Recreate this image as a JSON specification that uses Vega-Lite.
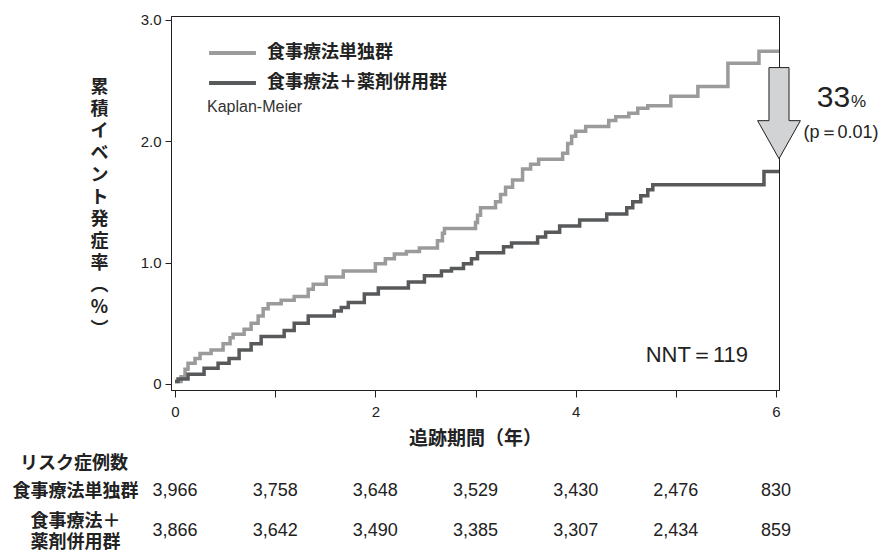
{
  "$schema": "https://vega.github.io/schema/vega-lite/v6.json",
  "padding": {"left": 12, "top": 12, "right": 0, "bottom": 0},
  "background": "white",
  "config": {"font": "Liberation Sans", "view": {"stroke": null}},
  "spacing": 6,
  "datasets": {
    "km": [
      {"group": "食事療法単独群", "year": 0, "value": 0.02},
      {"group": "食事療法単独群", "year": 0.06, "value": 0.06},
      {"group": "食事療法単独群", "year": 0.1, "value": 0.12},
      {"group": "食事療法単独群", "year": 0.13, "value": 0.17},
      {"group": "食事療法単独群", "year": 0.2, "value": 0.21},
      {"group": "食事療法単独群", "year": 0.25, "value": 0.25},
      {"group": "食事療法単独群", "year": 0.36, "value": 0.28},
      {"group": "食事療法単独群", "year": 0.48, "value": 0.33},
      {"group": "食事療法単独群", "year": 0.55, "value": 0.38},
      {"group": "食事療法単独群", "year": 0.58, "value": 0.41},
      {"group": "食事療法単独群", "year": 0.69, "value": 0.45},
      {"group": "食事療法単独群", "year": 0.76, "value": 0.5},
      {"group": "食事療法単独群", "year": 0.83, "value": 0.56},
      {"group": "食事療法単独群", "year": 0.88, "value": 0.62},
      {"group": "食事療法単独群", "year": 0.93, "value": 0.66},
      {"group": "食事療法単独群", "year": 1.06, "value": 0.69},
      {"group": "食事療法単独群", "year": 1.19, "value": 0.72},
      {"group": "食事療法単独群", "year": 1.33, "value": 0.78},
      {"group": "食事療法単独群", "year": 1.38, "value": 0.82},
      {"group": "食事療法単独群", "year": 1.51, "value": 0.88},
      {"group": "食事療法単独群", "year": 1.68, "value": 0.93},
      {"group": "食事療法単独群", "year": 2.0, "value": 0.99},
      {"group": "食事療法単独群", "year": 2.1, "value": 1.03},
      {"group": "食事療法単独群", "year": 2.19, "value": 1.07},
      {"group": "食事療法単独群", "year": 2.31, "value": 1.09},
      {"group": "食事療法単独群", "year": 2.44, "value": 1.12},
      {"group": "食事療法単独群", "year": 2.62, "value": 1.18},
      {"group": "食事療法単独群", "year": 2.67, "value": 1.24},
      {"group": "食事療法単独群", "year": 2.69, "value": 1.28},
      {"group": "食事療法単独群", "year": 3.0, "value": 1.33},
      {"group": "食事療法単独群", "year": 3.02, "value": 1.39},
      {"group": "食事療法単独群", "year": 3.05, "value": 1.45},
      {"group": "食事療法単独群", "year": 3.2, "value": 1.5},
      {"group": "食事療法単独群", "year": 3.25, "value": 1.56},
      {"group": "食事療法単独群", "year": 3.3, "value": 1.62},
      {"group": "食事療法単独群", "year": 3.37, "value": 1.68},
      {"group": "食事療法単独群", "year": 3.47, "value": 1.77},
      {"group": "食事療法単独群", "year": 3.55, "value": 1.81},
      {"group": "食事療法単独群", "year": 3.63, "value": 1.85},
      {"group": "食事療法単独群", "year": 3.87, "value": 1.9},
      {"group": "食事療法単独群", "year": 3.92, "value": 1.98},
      {"group": "食事療法単独群", "year": 3.96, "value": 2.04},
      {"group": "食事療法単独群", "year": 4.0, "value": 2.08},
      {"group": "食事療法単独群", "year": 4.1, "value": 2.12},
      {"group": "食事療法単独群", "year": 4.33, "value": 2.17},
      {"group": "食事療法単独群", "year": 4.4, "value": 2.2},
      {"group": "食事療法単独群", "year": 4.53, "value": 2.23},
      {"group": "食事療法単独群", "year": 4.62, "value": 2.27},
      {"group": "食事療法単独群", "year": 4.72, "value": 2.29},
      {"group": "食事療法単独群", "year": 4.95, "value": 2.37},
      {"group": "食事療法単独群", "year": 5.22, "value": 2.45},
      {"group": "食事療法単独群", "year": 5.52, "value": 2.64},
      {"group": "食事療法単独群", "year": 5.83, "value": 2.74},
      {"group": "食事療法単独群", "year": 6.03, "value": 2.74},
      {"group": "食事療法＋薬剤併用群", "year": 0, "value": 0.02},
      {"group": "食事療法＋薬剤併用群", "year": 0.03, "value": 0.04},
      {"group": "食事療法＋薬剤併用群", "year": 0.13, "value": 0.08},
      {"group": "食事療法＋薬剤併用群", "year": 0.29, "value": 0.13},
      {"group": "食事療法＋薬剤併用群", "year": 0.43, "value": 0.17},
      {"group": "食事療法＋薬剤併用群", "year": 0.54, "value": 0.21},
      {"group": "食事療法＋薬剤併用群", "year": 0.64, "value": 0.28},
      {"group": "食事療法＋薬剤併用群", "year": 0.76, "value": 0.33},
      {"group": "食事療法＋薬剤併用群", "year": 0.86, "value": 0.39},
      {"group": "食事療法＋薬剤併用群", "year": 1.09, "value": 0.44},
      {"group": "食事療法＋薬剤併用群", "year": 1.19, "value": 0.5},
      {"group": "食事療法＋薬剤併用群", "year": 1.33, "value": 0.56},
      {"group": "食事療法＋薬剤併用群", "year": 1.59, "value": 0.6},
      {"group": "食事療法＋薬剤併用群", "year": 1.66, "value": 0.63},
      {"group": "食事療法＋薬剤併用群", "year": 1.73, "value": 0.67},
      {"group": "食事療法＋薬剤併用群", "year": 1.89, "value": 0.74},
      {"group": "食事療法＋薬剤併用群", "year": 2.03, "value": 0.79},
      {"group": "食事療法＋薬剤併用群", "year": 2.33, "value": 0.84},
      {"group": "食事療法＋薬剤併用群", "year": 2.49, "value": 0.89},
      {"group": "食事療法＋薬剤併用群", "year": 2.66, "value": 0.93},
      {"group": "食事療法＋薬剤併用群", "year": 2.76, "value": 0.95},
      {"group": "食事療法＋薬剤併用群", "year": 2.88, "value": 0.99},
      {"group": "食事療法＋薬剤併用群", "year": 2.96, "value": 1.03},
      {"group": "食事療法＋薬剤併用群", "year": 3.02, "value": 1.08},
      {"group": "食事療法＋薬剤併用群", "year": 3.28, "value": 1.13},
      {"group": "食事療法＋薬剤併用群", "year": 3.36, "value": 1.16},
      {"group": "食事療法＋薬剤併用群", "year": 3.62, "value": 1.21},
      {"group": "食事療法＋薬剤併用群", "year": 3.7, "value": 1.25},
      {"group": "食事療法＋薬剤併用群", "year": 3.84, "value": 1.3},
      {"group": "食事療法＋薬剤併用群", "year": 4.04, "value": 1.35},
      {"group": "食事療法＋薬剤併用群", "year": 4.31, "value": 1.4},
      {"group": "食事療法＋薬剤併用群", "year": 4.51, "value": 1.45},
      {"group": "食事療法＋薬剤併用群", "year": 4.57, "value": 1.5},
      {"group": "食事療法＋薬剤併用群", "year": 4.65, "value": 1.55},
      {"group": "食事療法＋薬剤併用群", "year": 4.72, "value": 1.6},
      {"group": "食事療法＋薬剤併用群", "year": 4.77, "value": 1.64},
      {"group": "食事療法＋薬剤併用群", "year": 5.88, "value": 1.75},
      {"group": "食事療法＋薬剤併用群", "year": 6.03, "value": 1.75}
    ],
    "risk": [
      {"group": "食事療法単独群", "year": 0, "n": 3966},
      {"group": "食事療法単独群", "year": 1, "n": 3758},
      {"group": "食事療法単独群", "year": 2, "n": 3648},
      {"group": "食事療法単独群", "year": 3, "n": 3529},
      {"group": "食事療法単独群", "year": 4, "n": 3430},
      {"group": "食事療法単独群", "year": 5, "n": 2476},
      {"group": "食事療法単独群", "year": 6, "n": 830},
      {"group": "食事療法＋薬剤併用群", "year": 0, "n": 3866},
      {"group": "食事療法＋薬剤併用群", "year": 1, "n": 3642},
      {"group": "食事療法＋薬剤併用群", "year": 2, "n": 3490},
      {"group": "食事療法＋薬剤併用群", "year": 3, "n": 3385},
      {"group": "食事療法＋薬剤併用群", "year": 4, "n": 3307},
      {"group": "食事療法＋薬剤併用群", "year": 5, "n": 2434},
      {"group": "食事療法＋薬剤併用群", "year": 6, "n": 859}
    ],
    "notes": [
      {"key": "pct", "year": 6.74, "value": 2.28, "label": "33"},
      {"key": "pctsign", "year": 6.75, "value": 2.28, "label": "%"},
      {"key": "p", "year": 6.65, "value": 2.07, "label": "(p＝0.01)"},
      {"key": "nnt", "year": 5.21, "value": 0.24, "label": "NNT＝119"},
      {"key": "arrow", "year": 6.03, "value": 2.23, "label": "33% reduction"}
    ]
  },
  "vconcat": [
    {
      "width": 608,
      "height": 374,
      "view": {"stroke": "#231f20", "strokeWidth": 1},
      "layer": [
        {
          "data": {"name": "km"},
          "mark": {"type": "line", "interpolate": "step-after", "strokeWidth": 3.5},
          "encoding": {
            "x": {
              "field": "year", "type": "quantitative",
              "scale": {"domain": [-0.04, 6.03], "nice": false, "zero": false},
              "axis": {
                "values": [0, 1, 2, 3, 4, 5, 6],
                "labelExpr": "datum.value % 2 === 0 ? datum.label : ''",
                "format": "d",
                "grid": false,
                "domainColor": "#231f20",
                "tickColor": "#231f20",
                "tickSize": 7,
                "labelPadding": 7,
                "labelFontSize": 15,
                "labelColor": "#222",
                "title": "追跡期間（年）",
                "titleFont": "Noto Sans CJK JP",
                "titleFontSize": 19,
                "titleFontWeight": "bold",
                "titleColor": "#222",
                "titlePadding": 10
              }
            },
            "y": {
              "field": "value", "type": "quantitative",
              "scale": {"domain": [-0.05, 3.03], "nice": false, "zero": false},
              "axis": {
                "values": [0, 1, 2, 3],
                "labelExpr": "datum.value === 0 ? '0' : format(datum.value, '.1f')",
                "grid": false,
                "domainColor": "#231f20",
                "tickColor": "#231f20",
                "tickSize": 6,
                "labelPadding": 4,
                "labelFontSize": 15,
                "labelColor": "#222",
                "title": ["累", "積", "イ", "ベ", "ン", "ト", "発", "症", "率", "︵", "%", "︶"],
                "titleFont": "Noto Sans CJK JP",
                "titleFontSize": 18,
                "titleFontWeight": "bold",
                "titleColor": "#222",
                "titleAngle": 0,
                "titleAlign": "center",
                "titleBaseline": "top",
                "titleLineHeight": 22,
                "titleX": -72,
                "titleY": 62
              }
            },
            "color": {
              "field": "group", "type": "nominal",
              "scale": {"domain": ["食事療法単独群", "食事療法＋薬剤併用群"], "range": ["#9b9b9b", "#58595b"]},
              "legend": {
                "orient": "none",
                "legendX": 36,
                "legendY": 27,
                "symbolType": "stroke",
                "symbolSize": 2200,
                "symbolStrokeWidth": 4,
                "clipHeight": 20,
                "labelFont": "Noto Sans CJK JP",
                "labelFontSize": 18,
                "labelFontWeight": "bold",
                "labelColor": "#222",
                "labelOffset": 9,
                "labelLimit": 0,
                "rowPadding": 10,
                "title": "Kaplan-Meier",
                "titleOrient": "bottom",
                "titleAnchor": "start",
                "titleFont": "Liberation Sans",
                "titleFontSize": 16,
                "titleFontWeight": "normal",
                "titleColor": "#333",
                "titlePadding": 6
              }
            }
          }
        },
        {
          "data": {"name": "notes"},
          "transform": [{"filter": "datum.key === 'arrow'"}],
          "mark": {
            "type": "point", "filled": true, "fill": "#d1d3d4", "stroke": "#231f20", "strokeWidth": 1, "opacity": 1,
            "shape": "M-0.22,-1 L0.22,-1 L0.22,0.165 L0.47,0.165 L0,1 L-0.47,0.165 L-0.22,0.165 Z",
            "size": 8300
          },
          "encoding": {
            "x": {"field": "year", "type": "quantitative"},
            "y": {"field": "value", "type": "quantitative"}
          }
        },
        {
          "data": {"name": "notes"},
          "transform": [{"filter": "datum.key === 'pct'"}],
          "mark": {"type": "text", "align": "right", "baseline": "alphabetic", "fontSize": 30, "color": "#222"},
          "encoding": {
            "x": {"field": "year", "type": "quantitative"},
            "y": {"field": "value", "type": "quantitative"},
            "text": {"field": "label"}
          }
        },
        {
          "data": {"name": "notes"},
          "transform": [{"filter": "datum.key === 'pctsign'"}],
          "mark": {"type": "text", "align": "left", "baseline": "alphabetic", "fontSize": 17, "color": "#222"},
          "encoding": {
            "x": {"field": "year", "type": "quantitative"},
            "y": {"field": "value", "type": "quantitative"},
            "text": {"field": "label"}
          }
        },
        {
          "data": {"name": "notes"},
          "transform": [{"filter": "datum.key === 'p'"}],
          "mark": {"type": "text", "align": "center", "baseline": "middle", "fontSize": 18, "color": "#222"},
          "encoding": {
            "x": {"field": "year", "type": "quantitative"},
            "y": {"field": "value", "type": "quantitative"},
            "text": {"field": "label"}
          }
        },
        {
          "data": {"name": "notes"},
          "transform": [{"filter": "datum.key === 'nnt'"}],
          "mark": {"type": "text", "align": "center", "baseline": "middle", "fontSize": 22, "color": "#222"},
          "encoding": {
            "x": {"field": "year", "type": "quantitative"},
            "y": {"field": "value", "type": "quantitative"},
            "text": {"field": "label"}
          }
        }
      ]
    },
    {
      "width": 608,
      "height": 64,
      "title": {"text": "リスク症例数", "anchor": "start", "frame": "bounds", "font": "Noto Sans CJK JP", "fontSize": 18, "fontWeight": "bold", "color": "#222", "offset": 6, "dx": 8},
      "data": {"name": "risk"},
      "mark": {"type": "text", "fontSize": 18, "color": "#222"},
      "encoding": {
        "x": {"field": "year", "type": "quantitative", "scale": {"domain": [-0.04, 6.03], "nice": false, "zero": false}, "axis": null},
        "y": {
          "field": "group", "type": "nominal",
          "scale": {"type": "point", "padding": 0.3, "domain": ["食事療法単独群", "食事療法＋薬剤併用群"]},
          "axis": {
            "title": null,
            "domain": false,
            "ticks": false,
            "labelAlign": "center",
            "labelBaseline": "middle",
            "labelPadding": 96,
            "labelOffset": {"condition": {"test": "datum.value === '食事療法＋薬剤併用群'", "value": -10}, "value": 0},
            "labelFont": "Noto Sans CJK JP",
            "labelFontSize": 18,
            "labelFontWeight": "bold",
            "labelColor": "#222",
            "labelLineHeight": 21,
            "labelLimit": 0,
            "labelExpr": "datum.value === '食事療法＋薬剤併用群' ? ['食事療法＋', '薬剤併用群'] : datum.label"
          }
        },
        "text": {"field": "n", "type": "quantitative", "format": ","}
      }
    }
  ],
  "resolve": {"scale": {"x": "independent"}}
}
